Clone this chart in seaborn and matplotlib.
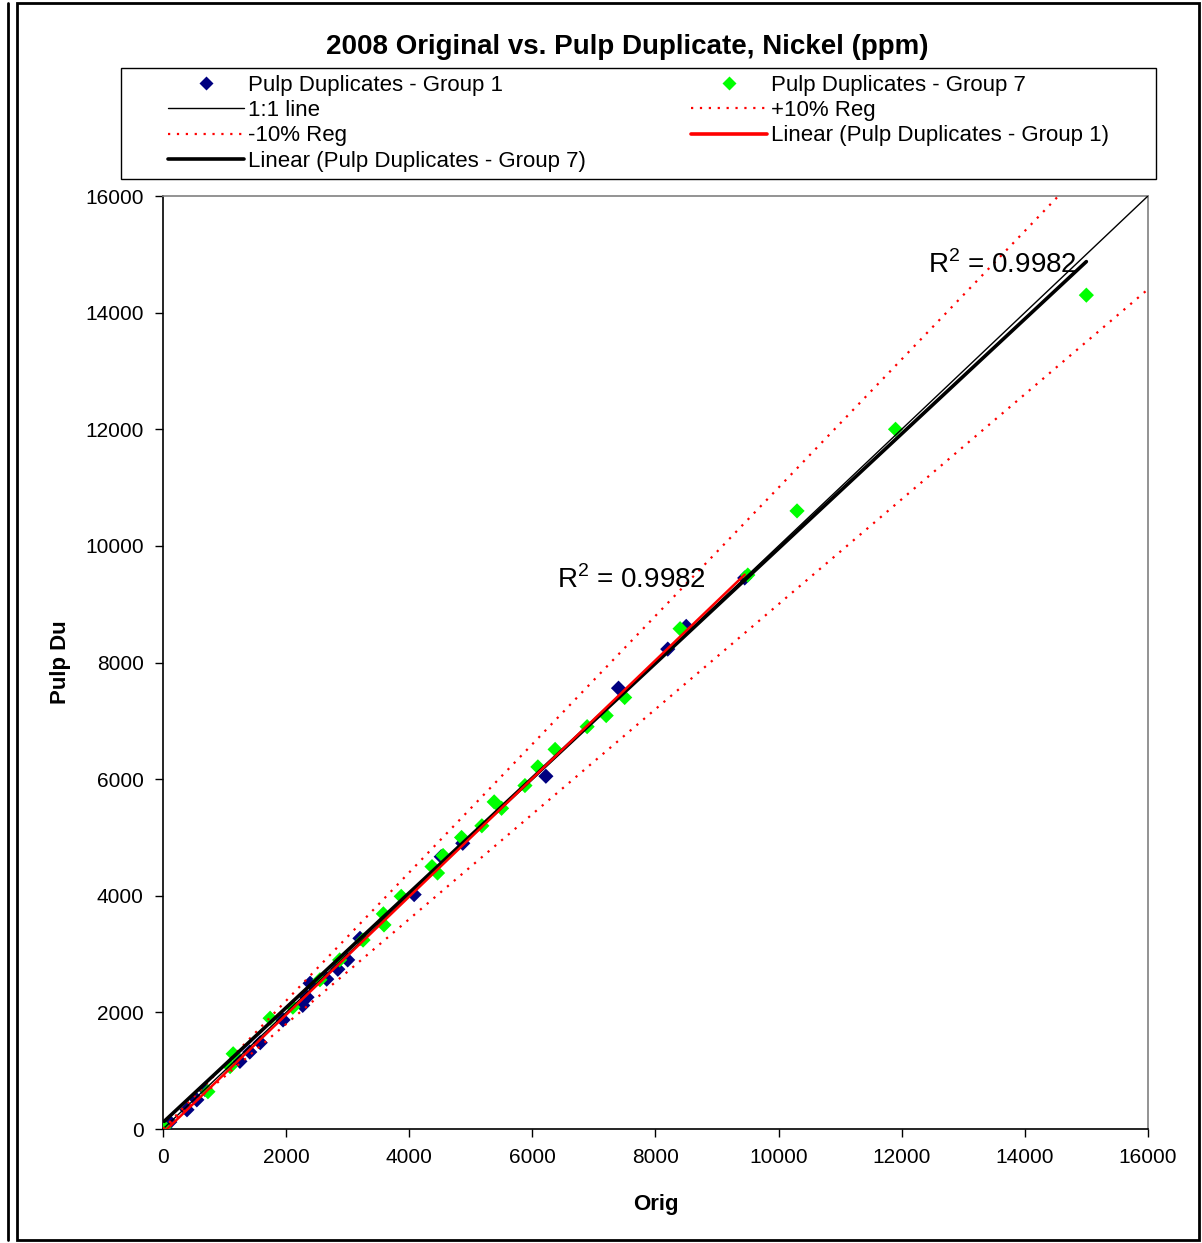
import numpy as np
import pandas as pd
import matplotlib
matplotlib.use("Agg")
import matplotlib.pyplot as plt
from matplotlib.lines import Line2D
from matplotlib.patches import Rectangle
import seaborn as sns

# ---------------- data ----------------
g1_orig = [9450, 8500, 8200, 7400, 6220, 4870, 4520, 4080, 3200, 3000, 2840, 2660,
           2390, 2340, 2270, 1950, 1580, 1410, 1250, 680, 550, 390, 110, 30]
g1_dup = [9450, 8620, 8230, 7560, 6050, 4900, 4670, 4020, 3270, 2900, 2740, 2570,
          2500, 2260, 2120, 1870, 1480, 1320, 1160, 680, 500, 330, 120, 20]

g7_orig = [15000, 11900, 10300, 9500, 8400, 7500, 7200, 6890, 6370, 6090, 5880, 5500,
           5380, 5180, 4850, 4550, 4460, 4370, 3870, 3590, 3580, 3250, 2870, 2550,
           2110, 1740, 1140, 1090, 730, 20]
g7_dup = [14300, 12000, 10600, 9500, 8580, 7400, 7090, 6900, 6510, 6210, 5890, 5500,
          5610, 5200, 5000, 4690, 4390, 4500, 3990, 3500, 3690, 3240, 2900, 2560,
          2090, 1900, 1290, 1070, 640, 30]

one_x = [0, 16000]
one_y = [0, 16000]
plus_x = [0, 14650]
plus_y = [0, 16115]
minus_x = [0, 16000]
minus_y = [0, 14400]

ticks = [0, 2000, 4000, 6000, 8000, 10000, 12000, 14000, 16000]
r2_text = "R$^2$ = 0.9982"

title = "2008 Original vs. Pulp Duplicate, Nickel (ppm)"
labels = ["Pulp Duplicates - Group 1", "Pulp Duplicates - Group 7", "1:1 line",
          "+10% Reg", "-10% Reg", "Linear (Pulp Duplicates - Group 1)",
          "Linear (Pulp Duplicates - Group 7)"]

# ---------------- style ----------------
sns.set_style("white")
plt.rcParams['font.family'] = ['Liberation Sans', 'DejaVu Sans']
plt.rcParams['mathtext.fontset'] = 'custom'
plt.rcParams['mathtext.rm'] = 'Liberation Sans'
plt.rcParams['text.color'] = 'black'
plt.rcParams['axes.labelcolor'] = 'black'
plt.rcParams['xtick.color'] = 'black'
plt.rcParams['ytick.color'] = 'black'

c_blue = '#000080'
c_green = '#00FF00'
c_red = '#FF0000'

fig = plt.figure(figsize=(12.02, 12.43), dpi=100)
ax = fig.add_axes([0.1356, 0.0917, 0.8194, 0.7506])

df1 = pd.DataFrame({"orig": g1_orig, "dup": g1_dup})
df7 = pd.DataFrame({"orig": g7_orig, "dup": g7_dup})

sns.scatterplot(data=df1, x="orig", y="dup", ax=ax, marker='D', s=60,
                color=c_blue, edgecolor='none', zorder=3, legend=False)
sns.scatterplot(data=df7, x="orig", y="dup", ax=ax, marker='D', s=60,
                color=c_green, edgecolor='none', zorder=3, legend=False)

sns.lineplot(x=one_x, y=one_y, ax=ax, color='black', lw=1.0, zorder=4)
sns.lineplot(x=plus_x, y=plus_y, ax=ax, color=c_red, lw=1.6, linestyle=(0, (1, 3)), zorder=4)
sns.lineplot(x=minus_x, y=minus_y, ax=ax, color=c_red, lw=1.6, linestyle=(0, (1, 3)), zorder=4)

sns.regplot(data=df7, x="orig", y="dup", ax=ax, scatter=False, ci=None, truncate=True,
            line_kws=dict(color='black', lw=2.6, zorder=5))
sns.regplot(data=df1, x="orig", y="dup", ax=ax, scatter=False, ci=None, truncate=True,
            line_kws=dict(color=c_red, lw=1.8, zorder=6))

ax.text(12430, 14820, r2_text, fontsize=20, va='center', ha='left', zorder=7)
ax.text(6400, 9415, r2_text, fontsize=20, va='center', ha='left', zorder=7)

ax.set_xlim(0, 16000)
ax.set_ylim(0, 16000)
ax.set_xticks(ticks)
ax.set_yticks(ticks)
ax.set_xticklabels([str(t) for t in ticks], fontsize=15)
ax.set_yticklabels([str(t) for t in ticks], fontsize=15)
ax.tick_params(axis='both', direction='out', length=6, width=1, color='black',
               bottom=True, left=True, pad=8)
ax.set_xlabel("Orig", fontsize=16, fontweight='bold', labelpad=19)
ax.set_ylabel("Pulp Du", fontsize=16, fontweight='bold', labelpad=10)
for side in ['top', 'right']:
    ax.spines[side].set_color('#808080')
    ax.spines[side].set_linewidth(1.2)
for side in ['left', 'bottom']:
    ax.spines[side].set_color('black')
    ax.spines[side].set_linewidth(1.2)

fig.text(0.5216, 1 - 47 / 1243, title, fontsize=20, fontweight='bold', ha='center', va='center')

handles = [
    Line2D([], [], marker='D', color='none', markerfacecolor=c_blue, markeredgecolor='none', markersize=7),
    Line2D([], [], marker='D', color='none', markerfacecolor=c_green, markeredgecolor='none', markersize=7),
    Line2D([], [], color='black', lw=1.0),
    Line2D([], [], color=c_red, lw=1.6, linestyle=(0, (1, 3))),
    Line2D([], [], color=c_red, lw=1.6, linestyle=(0, (1, 3))),
    Line2D([], [], color=c_red, lw=2.6),
    Line2D([], [], color='black', lw=2.6),
]
order = [0, 2, 4, 6, 1, 3, 5]
leg = fig.legend([handles[i] for i in order], [labels[i] for i in order],
                 loc='upper left', bbox_to_anchor=(168 / 1202, 1 - 75 / 1243),
                 ncol=2, frameon=False, fontsize=16, handlelength=3.4, handletextpad=0.2,
                 labelspacing=0.19, borderaxespad=0, borderpad=0, columnspacing=4.75)

# legend frame
fig.patches.append(Rectangle((121 / 1202, 1 - 179 / 1243), 1035 / 1202, 111 / 1243,
                             transform=fig.transFigure, fill=False, edgecolor='black', lw=1.0))

# outer chart frame
fig.patches.append(Rectangle((17 / 1202, 3 / 1243), 1182 / 1202, 1237 / 1243,
                             transform=fig.transFigure, fill=False, edgecolor='black', lw=2))
fig.add_artist(Line2D([8 / 1202, 8 / 1202], [3 / 1243, 1240 / 1243],
                      transform=fig.transFigure, color='black', lw=2))

fig.savefig("out.png", dpi=100)
